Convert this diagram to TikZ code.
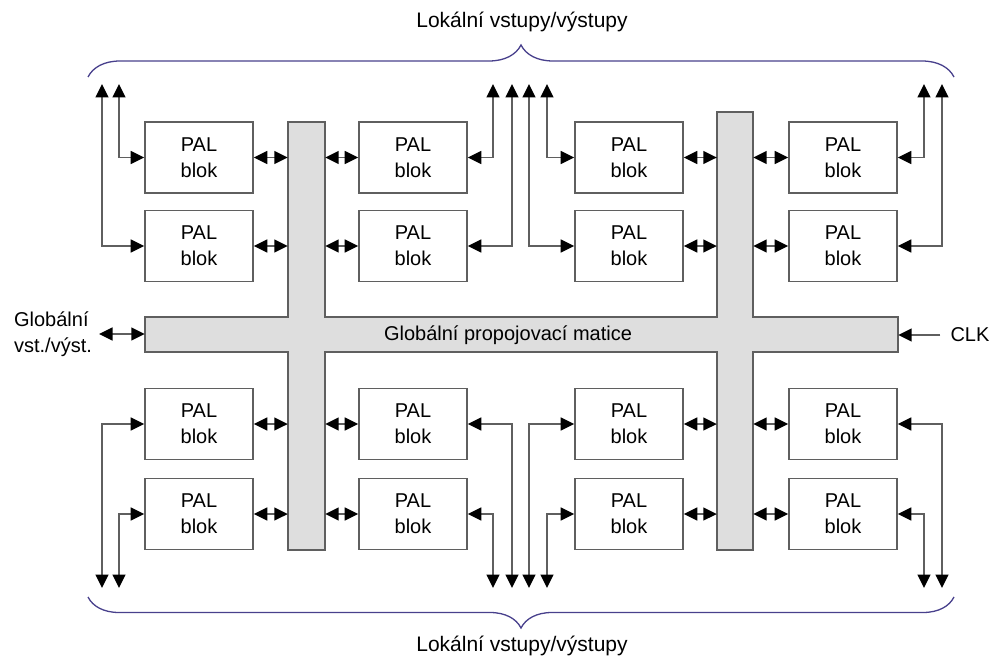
\documentclass[tikz,border=0pt]{standalone}
\usepackage{fontspec}
\setmainfont{Liberation Sans}
\usetikzlibrary{arrows.meta,decorations.pathreplacing}
\definecolor{wirecol}{RGB}{95,95,95}
\definecolor{barfill}{RGB}{222,222,222}
\definecolor{bracecol}{RGB}{72,64,140}

\begin{document}
\begin{tikzpicture}
  [x=1pt,y=-1pt,font=\fontsize{20}{26}\selectfont,
   pal/.style={draw=wirecol,line width=1.6pt,fill=white,minimum width=108pt,minimum height=71pt,inner sep=0pt,align=center},
   wire/.style={draw=wirecol,line width=1.6pt,{Triangle[length=13.5pt,width=13pt,color=black]}-{Triangle[length=13.5pt,width=13pt,color=black]}},
   inwire/.style={draw=wirecol,line width=1.6pt,-{Triangle[length=13.5pt,width=13pt,color=black]}},
   lbrace/.style={draw=bracecol,line width=1.3pt,decorate,decoration={brace,amplitude=#1}}]
  \useasboundingbox (0,0) rectangle (997,661);
  \node[minimum width=37pt,minimum height=428pt,inner sep=0pt] (lbar) at (306.5,336) {};
  \node[minimum width=36pt,minimum height=438pt,inner sep=0pt] (rbar) at (735,331) {};
  \node[minimum width=753pt,minimum height=35pt,inner sep=0pt] (matrix) at (521.5,334.5) {};
  \draw[draw=wirecol,line width=1.6pt,fill=barfill]
    (lbar.north west) -- (lbar.north east) -- (lbar.east |- matrix.north)
    -- (rbar.west |- matrix.north) -- (rbar.north west) -- (rbar.north east)
    -- (rbar.east |- matrix.north) -- (matrix.north east) -- (matrix.south east)
    -- (rbar.east |- matrix.south) -- (rbar.south east) -- (rbar.south west)
    -- (rbar.west |- matrix.south) -- (lbar.east |- matrix.south)
    -- (lbar.south east) -- (lbar.south west) -- (lbar.west |- matrix.south)
    -- (matrix.south west) -- (matrix.north west) -- (lbar.west |- matrix.north) -- cycle;
  \node (mlabel) at (508,335) {Globální propojovací matice};

  \node[pal] (b11) at (199,157.5) {PAL\\blok};
  \node[pal] (b12) at (199,246)   {PAL\\blok};
  \node[pal] (b13) at (199,424)   {PAL\\blok};
  \node[pal] (b14) at (199,514)   {PAL\\blok};
  \node[pal] (b21) at (413,157.5) {PAL\\blok};
  \node[pal] (b22) at (413,246)   {PAL\\blok};
  \node[pal] (b23) at (413,424)   {PAL\\blok};
  \node[pal] (b24) at (413,514)   {PAL\\blok};
  \node[pal] (b31) at (629,157.5) {PAL\\blok};
  \node[pal] (b32) at (629,246)   {PAL\\blok};
  \node[pal] (b33) at (629,424)   {PAL\\blok};
  \node[pal] (b34) at (629,514)   {PAL\\blok};
  \node[pal] (b41) at (843,157.5) {PAL\\blok};
  \node[pal] (b42) at (843,246)   {PAL\\blok};
  \node[pal] (b43) at (843,424)   {PAL\\blok};
  \node[pal] (b44) at (843,514)   {PAL\\blok};

  \foreach \r in {1,2,3,4} {
    \draw[wire] (b1\r.east) -- (b1\r.east -| lbar.west);
    \draw[wire] (b2\r.west) -- (b2\r.west -| lbar.east);
    \draw[wire] (b3\r.east) -- (b3\r.east -| rbar.west);
    \draw[wire] (b4\r.west) -- (b4\r.west -| rbar.east);
  }

  \foreach \x [count=\i] in {102,119,493,512,529,547,924,942} {
    \coordinate (t\i) at (\x,84);
    \coordinate (d\i) at (\x,588);
  }
  \foreach \from/\to in {t1/b12.west,t2/b11.west,t3/b21.east,t4/b22.east,t5/b32.west,t6/b31.west,t7/b41.east,t8/b42.east,
                         d1/b13.west,d2/b14.west,d3/b24.east,d4/b23.east,d5/b33.west,d6/b34.west,d7/b44.east,d8/b43.east}
    \draw[wire] (\from) |- (\to);

  \node[align=left,inner sep=0pt] (glob) at (53,334) {Globální\\vst./výst.};
  \draw[wire] ([xshift=7pt]glob.east) -- (glob.east -| matrix.west);
  \node[inner sep=0pt] (clk) at (970,335) {CLK};
  \draw[inwire] ([xshift=-10pt]clk.west) -- (clk.west -| matrix.east);

  \draw[lbrace=32pt] (88,77) -- (954,77);
  \draw[lbrace=31pt] (954,597) -- (88,597);
  \node[font=\fontsize{21}{26}\selectfont] (toplbl) at (522,22) {Lokální vstupy/výstupy};
  \node[font=\fontsize{21}{26}\selectfont] (botlbl) at (522,646) {Lokální vstupy/výstupy};

\end{tikzpicture}
\end{document}
